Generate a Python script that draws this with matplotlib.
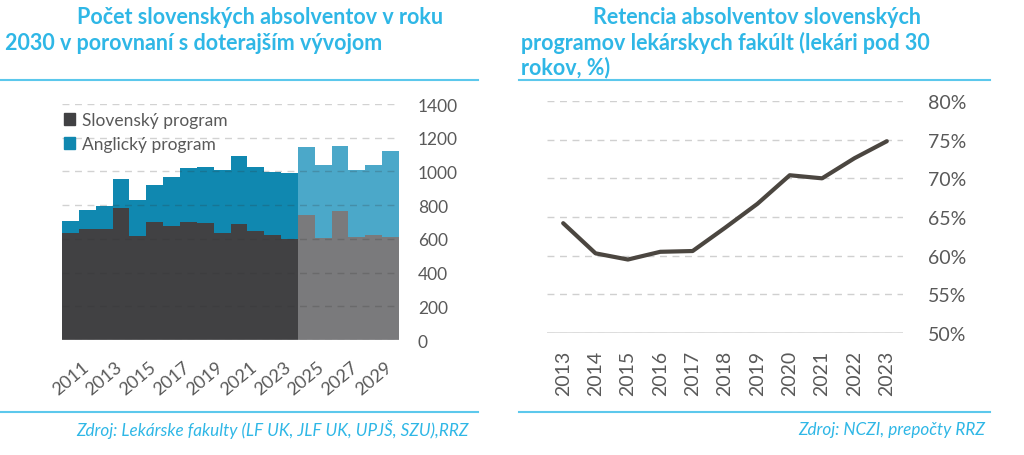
import numpy as np
import matplotlib.pyplot as plt
from matplotlib.patches import Patch
from matplotlib.lines import Line2D

# data - left chart (pocet absolventov)
years = np.arange(2011, 2031)
slovensky = [633, 658, 658, 785, 619, 698, 678, 698, 692, 633,
             688, 645, 625, 599, 743, 603, 767, 609, 623, 613]
anglicky = [71, 115, 139, 170, 211, 221, 291, 320, 334, 375,
            405, 383, 370, 390, 402, 437, 386, 401, 417, 506]
prvy_odhad = 2025

# data - right chart (retencia)
roky_ret = ['2013', '2014', '2015', '2016', '2017', '2018',
            '2019', '2020', '2021', '2022', '2023']
retencia = [64.2, 60.3, 59.5, 60.5, 60.6, 63.6, 66.7, 70.4, 70.0, 72.6, 74.8]

CYAN = '#2fb7e6'
LINE = '#5cc8ec'
GRAY_TXT = '#595959'

plt.rcParams['font.family'] = ['Lato', 'DejaVu Sans']

fig = plt.figure(figsize=(10.24, 4.56), dpi=100)
W, H = 1024, 456


def box(x0, y0, x1, y1):
    return [x0 / W, 1 - y1 / H, (x1 - x0) / W, (y1 - y0) / H]


# ---------------- left chart ----------------
ax1 = fig.add_axes(box(62, 105, 399, 341))
sk = np.array(slovensky)
en = np.array(anglicky)
odhad = years >= prvy_odhad
col_sk = np.where(odhad, '#7a7a7c', '#414143')
col_en = np.where(odhad, '#4ba8c9', '#1088b0')
ax1.bar(years, sk, width=1.0, color=col_sk, linewidth=0)
ax1.bar(years, en, bottom=sk, width=1.0, color=col_en, linewidth=0)
ax1.set_xlim(years[0] - 0.5, years[-1] + 0.5)
ax1.set_ylim(0, 1400)
ax1.set_yticks(range(0, 1401, 200))
ax1.yaxis.tick_right()
ax1.tick_params(axis='y', length=0, pad=13.5, labelsize=12.5, labelcolor=GRAY_TXT)
for lab in ax1.get_yticklabels():
    lab.set_horizontalalignment('left')
ax1.set_xticks(years[::2])
ax1.set_xticklabels([str(y) for y in years[::2]], rotation=40, ha='center')
ax1.tick_params(axis='x', length=0, pad=13, labelsize=13, labelcolor=GRAY_TXT)
ax1.grid(axis='y', linestyle=(0, (5, 4)), color='#333333', alpha=0.22, linewidth=1)
ax1.set_axisbelow(False)
for s in ax1.spines.values():
    s.set_visible(False)
ax1.axhline(0, color='#cfcfcf', linewidth=1)
handles = [Patch(color='#414143'), Patch(color='#1088b0')]
ax1.legend(handles, ['Slovenský program', 'Anglický program'], loc='upper left',
           bbox_to_anchor=(-0.015, 0.995), frameon=False, fontsize=12.5,
           labelcolor=GRAY_TXT, handlelength=0.65, handleheight=0.65,
           handletextpad=0.4, labelspacing=0.45, borderaxespad=0)

# ---------------- right chart ----------------
ax2 = fig.add_axes(box(547, 102, 903, 334))
x = np.arange(len(roky_ret))
ax2.plot(x, retencia, color='#4b4640', linewidth=3, solid_joinstyle='round',
         solid_capstyle='round', zorder=3)
ax2.set_xlim(-0.5, len(roky_ret) - 0.5)
ax2.set_ylim(50, 80)
ax2.set_yticks(range(50, 81, 5))
ax2.set_yticklabels([f'{v}%' for v in range(50, 81, 5)])
ax2.yaxis.tick_right()
ax2.tick_params(axis='y', length=0, pad=18, labelsize=14, labelcolor=GRAY_TXT)
for lab in ax2.get_yticklabels():
    lab.set_horizontalalignment('left')
ax2.set_xticks(x)
ax2.set_xticklabels(roky_ret, rotation=90)
ax2.tick_params(axis='x', length=0, pad=12, labelsize=14, labelcolor=GRAY_TXT)
ax2.grid(axis='y', linestyle=(0, (5, 4)), color='#d0d0d0', linewidth=1)
for s in ax2.spines.values():
    s.set_visible(False)
ax2.axhline(50, color='#d9d9d9', linewidth=1.2, zorder=2)

# ---------------- titles, rules, sources ----------------
tkw = dict(color=CYAN, fontsize=15.5, fontweight='bold', va='center', ha='left')
fig.text(77 / W, 1 - 18 / H, 'Počet slovenských absolventov v roku', **tkw)
fig.text(5 / W, 1 - 43 / H, '2030 v porovnaní s doterajším vývojom', **tkw)
fig.text(593 / W, 1 - 18 / H, 'Retencia absolventov slovenských', **tkw)
fig.text(521 / W, 1 - 43 / H, 'programov lekárskych fakúlt (lekári pod 30', **tkw)
fig.text(521 / W, 1 - 68 / H, 'rokov, %)', **tkw)

for (a, b) in [(0, 478), (519, 990)]:
    for yy in (81, 413):
        fig.add_artist(Line2D([a / W, b / W], [1 - yy / H, 1 - yy / H],
                              color=LINE, linewidth=1.5))

skw = dict(color=CYAN, fontsize=12.3, style='italic', va='center', ha='right')
fig.text(469 / W, 1 - 430 / H, 'Zdroj: Lekárske fakulty (LF UK, JLF UK, UPJŠ, SZU),RRZ', **skw)
fig.text(985 / W, 1 - 430 / H, 'Zdroj: NCZI, prepočty RRZ', **skw)

fig.savefig('out.png', dpi=100, facecolor='white')
